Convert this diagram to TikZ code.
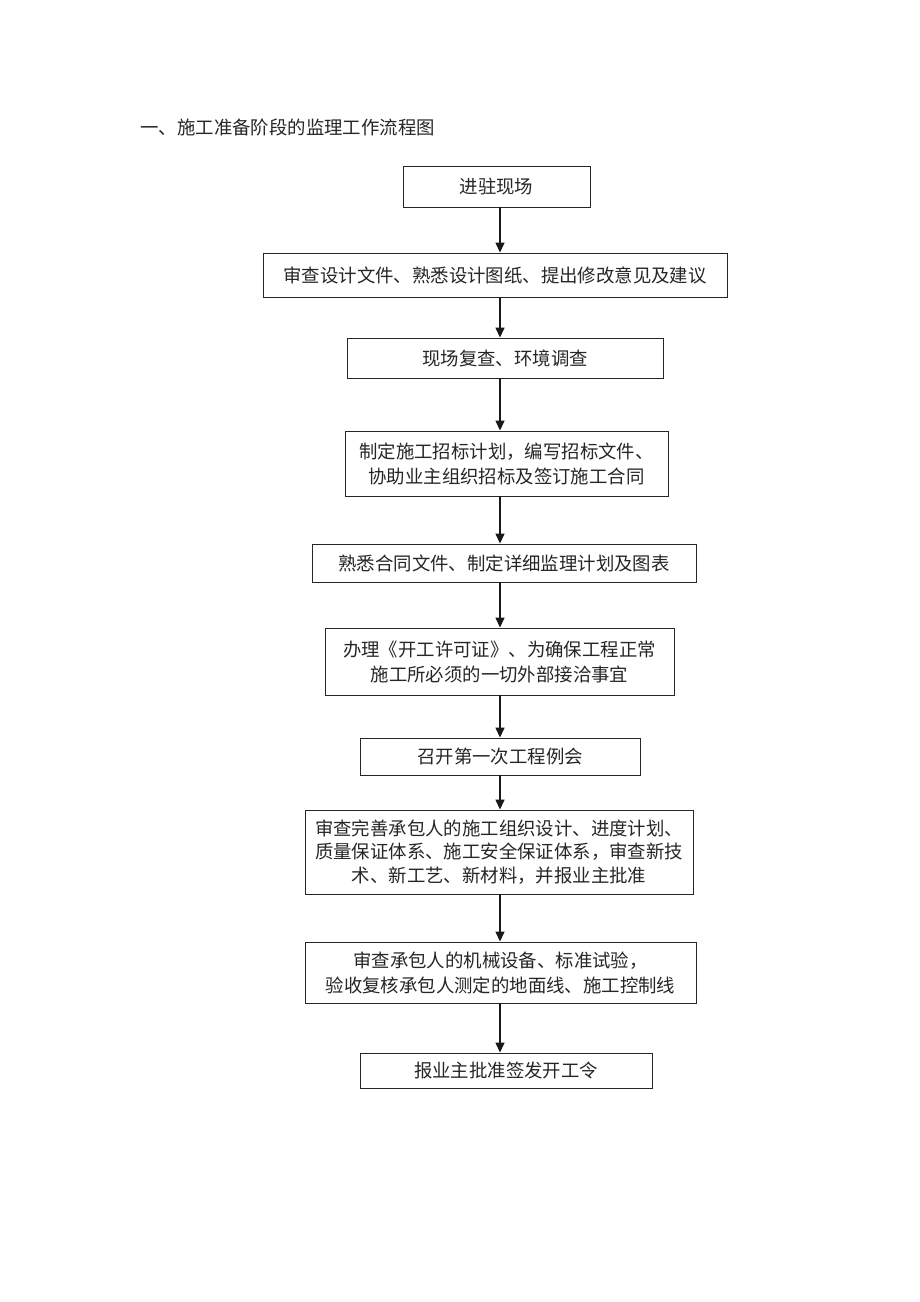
\documentclass[tikz,border=0pt]{standalone}
\usepackage{fontspec}
\setmainfont{Noto Sans CJK SC}
\usetikzlibrary{arrows.meta,shadows}
\begin{document}
\begin{tikzpicture}[x=1pt,y=-1pt,
  box/.style={draw=black!85, line width=0.9pt, fill=white, rectangle, inner sep=0pt,
    align=center, text=black!85, font=\fontsize{18.4}{25}\selectfont,
    drop shadow={shadow xshift=1.2pt, shadow yshift=-1.2pt, fill=black!85, opacity=1}},
  flow/.style={draw=black!90, line width=1.4pt, -{Triangle[length=10pt,width=9pt]}}
]
\useasboundingbox (0,0) rectangle (920,1302);
\fill[white] (0,0) rectangle (920,1302);
\coordinate (ax) at (500,0);

\node[anchor=west, text=black!85, font=\fontsize{18.4}{22}\selectfont] (title) at (137,127) {一、施工准备阶段的监理工作流程图};

\node[box, minimum width=187pt, minimum height=41pt] (b1) at (496.5,186.5) {进驻现场};
\node[box, minimum width=464pt, minimum height=44pt] (b2) at (495,275) {审查设计文件、熟悉设计图纸、提出修改意见及建议};
\node[box, minimum width=316pt, minimum height=40pt] (b3) at (505,358) {现场复查、环境调查};
\node[box, minimum width=323pt, minimum height=65pt] (b4) at (506.5,463.5) {制定施工招标计划，编写招标文件、\\协助业主组织招标及签订施工合同};
\node[box, minimum width=384pt, minimum height=38pt] (b5) at (504,563) {熟悉合同文件、制定详细监理计划及图表};
\node[box, minimum width=349pt, minimum height=67pt] (b6) at (499.5,661.5) {办理《开工许可证》、为确保工程正常\\施工所必须的一切外部接洽事宜};
\node[box, minimum width=280pt, minimum height=37pt] (b7) at (500,756.5) {召开第一次工程例会};
\node[box, minimum width=388pt, minimum height=84pt, font=\fontsize{18.4}{23.5}\selectfont] (b8) at (499,852) {审查完善承包人的施工组织设计、进度计划、\\质量保证体系、施工安全保证体系，审查新技\\术、新工艺、新材料，并报业主批准};
\node[box, minimum width=391pt, minimum height=61pt] (b9) at (500.5,972.5) {审查承包人的机械设备、标准试验，\\验收复核承包人测定的地面线、施工控制线};
\node[box, minimum width=292pt, minimum height=35pt] (b10) at (506,1070.5) {报业主批准签发开工令};

\foreach \a/\b in {b1/b2,b2/b3,b3/b4,b4/b5,b5/b6,b6/b7,b7/b8,b8/b9,b9/b10}{
  \draw[flow] (\a.south -| ax) -- (\b.north -| ax);
}
\end{tikzpicture}
\end{document}
